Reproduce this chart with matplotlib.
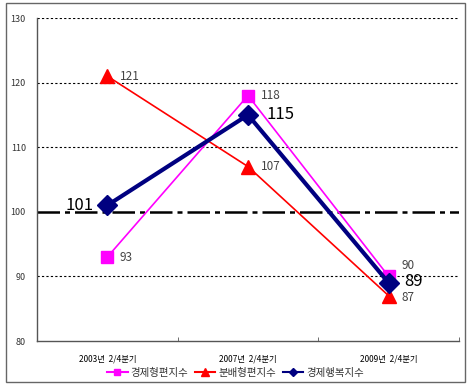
import matplotlib
matplotlib.use("Agg")
import matplotlib.pyplot as plt
from matplotlib.patches import Rectangle
from matplotlib.lines import Line2D

plt.rcParams['font.family'] = ['Noto Sans CJK KR', 'DejaVu Sans']

categories = ['2003년  2/4분기', '2007년  2/4분기', '2009년  2/4분기']
economy = [93, 118, 90]        # 경제형편지수
distribution = [121, 107, 87]  # 분배형편지수
happiness = [101, 115, 89]     # 경제행복지수
series_names = ['경제형편지수', '분배형편지수', '경제행복지수']
baseline = 100

fig = plt.figure(figsize=(4.71, 3.91), dpi=100)
ax = fig.add_axes([37/471, 50/391, 422/471, 323/391])

x = range(len(categories))

# grid + baseline
for v in [90, 110, 120, 130]:
    ax.axhline(v, color='black', lw=0.8, ls=(0, (2, 2)), zorder=1)
ax.axhline(baseline, color='black', lw=1.8, ls=(0, (9, 2, 2, 2)), zorder=2)

ax.plot(x, economy, color='#ff00ff', lw=1.2, marker='s', ms=8.5, zorder=3)
ax.plot(x, distribution, color='#ff0000', lw=1.2, marker='^', ms=9.5, zorder=3)
ax.plot(x, happiness, color='#000080', lw=3, marker='D', ms=10, zorder=4)

# small value labels
small = dict(fontsize=8.5, color='#444444', va='center', ha='left')
for i, v in enumerate(economy):
    ax.annotate(str(v), (i, v), xytext=(9, 0 if i != 2 else 8),
                textcoords='offset points', **small)
for i, v in enumerate(distribution):
    ax.annotate(str(v), (i, v), xytext=(9, 0 if i != 2 else -1),
                textcoords='offset points', **small)

# big value labels
big = dict(fontsize=12, color='black', va='center')
ax.annotate(str(happiness[0]), (0, happiness[0]), xytext=(-10, 0),
            textcoords='offset points', ha='right', **big)
ax.annotate(str(happiness[1]), (1, happiness[1]), xytext=(13, 0),
            textcoords='offset points', ha='left', **big)
ax.annotate(str(happiness[2]), (2, happiness[2]), xytext=(11, 1),
            textcoords='offset points', ha='left', **big)

ax.set_xlim(-0.5, 2.5)
ax.set_ylim(80, 130)
ax.set_yticks([80, 90, 100, 110, 120, 130])
ax.set_xticks(list(x))
ax.set_xticklabels(categories, fontsize=6)
ax.set_xticks([0.5, 1.5, 2.5], minor=True)
ax.tick_params(axis='x', which='major', length=0, pad=10)
ax.tick_params(axis='x', which='minor', length=3, direction='in', color='#555555')
ax.tick_params(axis='y', length=0, labelsize=6.5, pad=8, labelcolor='#333333')

for s in ['top', 'right']:
    ax.spines[s].set_visible(False)
for s in ['left', 'bottom']:
    ax.spines[s].set_color('#555555')
    ax.spines[s].set_linewidth(1)

handles = [
    Line2D([], [], color='#ff00ff', lw=1.5, marker='s', ms=5),
    Line2D([], [], color='#ff0000', lw=1.5, marker='^', ms=6),
    Line2D([], [], color='#000080', lw=1.5, marker='D', ms=4),
]
fig.legend(handles, series_names, loc='center', bbox_to_anchor=(0.5, 18/391),
           ncol=3, frameon=False, fontsize=7.5, handlelength=2.0,
           handletextpad=0.3, columnspacing=0.6, labelcolor='#333333')

fig.patches.append(Rectangle((6/471, 9/391), 459/471, 379/391, transform=fig.transFigure,
                             fill=False, edgecolor='#666666', lw=1))

fig.savefig('out.png', dpi=100)
